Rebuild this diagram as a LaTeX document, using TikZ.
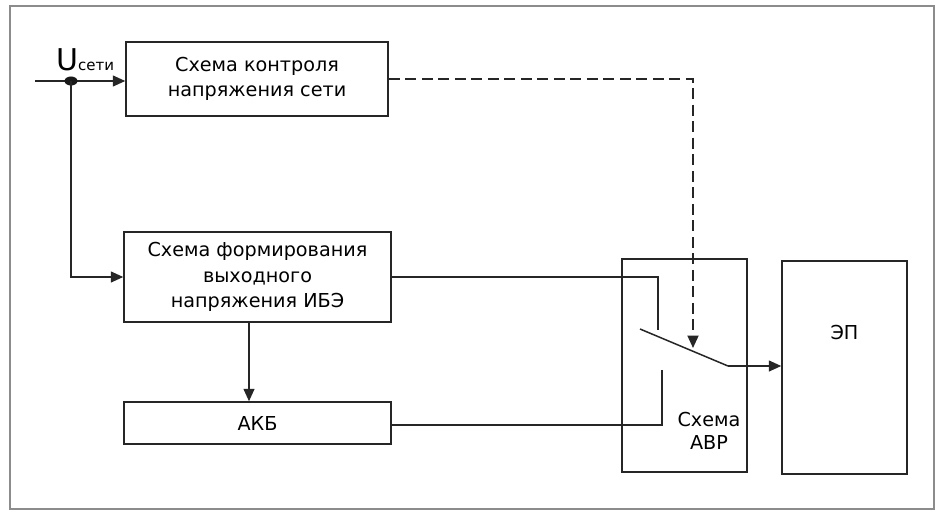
\documentclass[tikz,border=0pt]{standalone}
\usepackage{fontspec}
\setmainfont{DejaVu Sans}
\usetikzlibrary{arrows.meta}
\begin{document}
\begin{tikzpicture}[x=1pt,y=-1pt,
  blk/.style={draw=black!85,line width=1.5pt,inner sep=0pt,align=center,
    font=\fontsize{19.2}{25.5}\selectfont},
  wire/.style={draw=black!85,line width=1.5pt},
  arr/.style={wire,-{Triangle[length=12.5pt,width=11pt]}},
  dsh/.style={arr,dash pattern=on 11pt off 5.5pt,line width=2pt},
  lbl/.style={inner sep=0pt,align=center,font=\fontsize{19.2}{23}\selectfont}]
\fill[white] (0,0) rectangle (942,516);
\useasboundingbox (0,0) rectangle (942,516);
\draw[black!45,line width=1.2pt] (10,6) rectangle (934,509);
% blocks
\node[blk,minimum width=262pt,minimum height=74pt,font=\fontsize{19.2}{24.5}\selectfont] (b1) at (257,79) {Схема контроля\\напряжения сети};
\node[blk,minimum width=267pt,minimum height=90pt] (b2) at (257.5,277) {Схема формирования\\выходного\\напряжения ИБЭ};
\node[blk,minimum width=267pt,minimum height=42pt] (b3) at (257.5,423) {АКБ};
\node[blk,minimum width=125pt,minimum height=213pt] (avr) at (684.5,365.5) {};
\node[blk,minimum width=125pt,minimum height=213pt] (ep) at (844.5,367.5) {};
\node[lbl] (avrt) at (709,431) {Схема\\АВР};
\node[lbl] (ept) at (844.5,333) {ЭП};
% input
\node[inner sep=0pt,anchor=base west] (u) at (56,71) {{\fontsize{30}{30}\selectfont U}{\fontsize{15}{15}\selectfont сети}};
\coordinate (in) at (35,81);
\coordinate (dot) at (71,81);
\coordinate (ax) at (249,350);
\draw[arr] (in) -- (in -| b1.west);
\fill[black!90] (dot) ellipse (6.5pt and 4.5pt);
\draw[arr] (dot) |- (b2.west);
\draw[arr] (b2.south -| ax) -- (b3.north -| ax);
% switch
\coordinate (c1) at (658,277);
\coordinate (c1b) at (658,330);
\coordinate (c2) at (662,425);
\coordinate (c2b) at (662,370);
\coordinate (s1) at (640,329);
\coordinate (s2) at (728,366);
\coordinate (dx) at (693,79);
\coordinate (dt) at (693,348);
\draw[wire] (b2.east) -- (c1) -- (c1b);
\draw[wire] (b3.east |- c2) -- (c2) -- (c2b);
\draw[wire] (s1) -- (s2);
\draw[arr] (s2) -- (s2 -| ep.west);
\draw[dsh] (b1.east) -- (dx) -- (dt);
\end{tikzpicture}
\end{document}
